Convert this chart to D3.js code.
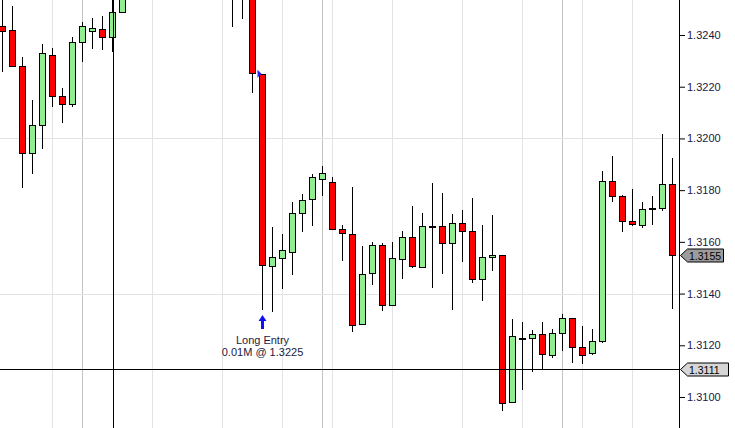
<!DOCTYPE html>
<meta charset="utf-8">
<title>EURUSD candles</title>
<style>
body { margin: 0; background: #fff; }
svg { display: block; font-family: Arial, "Liberation Sans", sans-serif; }
</style>
<svg id="chart"></svg>
<script src="https://cdn.jsdelivr.net/npm/d3@7"></script>
<script>
// OHLC, one bar every slot
var opens = [1.32434, 1.32418, 1.32279, 1.31942, 1.32051, 1.32321, 1.32163, 1.32132, 1.32372, 1.32413,
  1.32422, 1.32391, 1.32488, 1.3257, 1.3263, 1.3268, 1.3264, 1.3262, 1.3273, 1.3277,
  1.3270, 1.3264, 1.3261, 1.3259, 1.3256, 1.3260, 1.3225, 1.31507, 1.31538, 1.31559,
  1.31710, 1.31764, 1.31842, 1.31830, 1.31649, 1.31630, 1.31280, 1.31478, 1.31587, 1.31354,
  1.31532, 1.31617, 1.31503, 1.31660, 1.31660, 1.31594, 1.31672, 1.31641, 1.31455, 1.31540,
  1.31551, 1.30979, 1.31230, 1.31226, 1.31242, 1.31164, 1.31249, 1.31307, 1.31195, 1.31168,
  1.31215, 1.31834, 1.31776, 1.31680, 1.31667, 1.31732, 1.31729, 1.31823];
var highs = [1.32555, 1.32512, 1.32315, 1.32148, 1.32365, 1.32350, 1.32195, 1.32392, 1.32450, 1.32466,
  1.32474, 1.32547, 1.3260, 1.3266, 1.3272, 1.3275, 1.3270, 1.3276, 1.3281, 1.3280,
  1.3274, 1.3269, 1.3266, 1.3263, 1.3262, 1.3264, 1.3225, 1.31657, 1.31630, 1.31754,
  1.31784, 1.31862, 1.31893, 1.31852, 1.31666, 1.31813, 1.31585, 1.31600, 1.31595, 1.31600,
  1.31643, 1.31739, 1.31712, 1.31828, 1.31789, 1.31707, 1.31723, 1.31769, 1.31665, 1.31702,
  1.31551, 1.31300, 1.31289, 1.31258, 1.31289, 1.31262, 1.31320, 1.31307, 1.31274, 1.31262,
  1.31874, 1.31932, 1.31781, 1.31804, 1.31753, 1.31776, 1.32017, 1.31923];
var lows = [1.32258, 1.32279, 1.31809, 1.31863, 1.31960, 1.32123, 1.32061, 1.32123, 1.32297, 1.32347,
  1.32342, 1.32335, 1.32488, 1.3255, 1.3259, 1.3261, 1.3258, 1.3260, 1.3268, 1.3266,
  1.3260, 1.3257, 1.3256, 1.32432, 1.32463, 1.32177, 1.31336, 1.31329, 1.31418, 1.31472,
  1.31639, 1.31662, 1.31778, 1.31648, 1.31527, 1.31252, 1.31280, 1.31432, 1.31333, 1.31351,
  1.31457, 1.31497, 1.31503, 1.31422, 1.31476, 1.31336, 1.31523, 1.31441, 1.31373, 1.31488,
  1.30944, 1.30979, 1.31029, 1.31097, 1.31110, 1.31149, 1.31178, 1.31133, 1.31128, 1.31164,
  1.31209, 1.31756, 1.31639, 1.31663, 1.31652, 1.31667, 1.31720, 1.31342];
var closes = [1.32413, 1.32279, 1.31942, 1.32051, 1.32329, 1.32163, 1.32132, 1.32372, 1.32434, 1.32426,
  1.32391, 1.32488, 1.32574, 1.3263, 1.3268, 1.3264, 1.3262, 1.3273, 1.3277, 1.3270,
  1.3264, 1.3261, 1.3259, 1.3256, 1.3260, 1.32252, 1.31513, 1.31540, 1.31568, 1.31711,
  1.31761, 1.31849, 1.31865, 1.31648, 1.31633, 1.31280, 1.31474, 1.31587, 1.31354, 1.31536,
  1.31617, 1.31503, 1.31660, 1.31660, 1.31594, 1.31672, 1.31640, 1.31455, 1.31541, 1.31549,
  1.30979, 1.31234, 1.31230, 1.31242, 1.31164, 1.31249, 1.31307, 1.31195, 1.31164, 1.31215,
  1.31834, 1.31776, 1.31679, 1.31667, 1.31729, 1.31732, 1.31823, 1.3155];

var priceTicks = [1.3100, 1.3120, 1.3140, 1.3160, 1.3180, 1.3200, 1.3220, 1.3240];
var hGrid = [1.3140, 1.3200];
var vGridLight = [5, 15, 22, 28, 33, 39, 46, 52, 58, 63];
var vGridDark = [8, 32, 56];

var entryBar = 26, entryPrice = 1.3225;
var entryLines = ["Long Entry", "0.01M @ 1.3225"];
var lastPrice = 1.3155;
var crossBar = 11, crossPrice = 1.3111;

var width = 735, height = 428, axisX = 679.5;

var bars = opens.map(function(o, i) {
  return {i: i, o: o, h: highs[i], l: lows[i], c: closes[i]};
});

var svg = d3.select('#chart').attr('width', width).attr('height', height);

var x = d3.scaleLinear().domain([0, bars.length - 1]).range([2.5, 672.5]);
var y = d3.scaleLinear().domain([1.3100, 1.3240]).range([397, 35]);

var plot = svg.append('g');

// grid
plot.selectAll('.vgl').data(vGridLight).enter().append('line')
  .attr('x1', d => x(d)).attr('x2', d => x(d))
  .attr('y1', 0).attr('y2', height)
  .attr('stroke', '#e3e3e3');
plot.selectAll('.vgd').data(vGridDark).enter().append('line')
  .attr('x1', d => x(d)).attr('x2', d => x(d))
  .attr('y1', 0).attr('y2', height)
  .attr('stroke', '#c4c4c4');
plot.selectAll('.hg').data(hGrid).enter().append('line')
  .attr('x1', 0).attr('x2', axisX)
  .attr('y1', d => Math.round(y(d)) + 0.5).attr('y2', d => Math.round(y(d)) + 0.5)
  .attr('stroke', '#e3e3e3');

// candles
var candle = plot.selectAll('.candle').data(bars).enter().append('g');
candle.append('line')
  .attr('x1', d => x(d.i)).attr('x2', d => x(d.i))
  .attr('y1', d => Math.round(y(d.h))).attr('y2', d => Math.round(y(d.l)))
  .attr('stroke', '#000');
candle.append('rect')
  .attr('x', d => x(d.i) - 3)
  .attr('width', 6)
  .attr('y', d => Math.round(y(Math.max(d.o, d.c))) + 0.5)
  .attr('height', d => Math.max(1, Math.round(Math.abs(y(d.o) - y(d.c)))))
  .attr('fill', d => d.c < d.o ? '#ff0000' : '#90ee90')
  .attr('stroke', '#000');

// crosshair
var cy = Math.round(y(crossPrice)) + 0.5;
plot.append('line')
  .attr('x1', 0).attr('x2', axisX).attr('y1', cy).attr('y2', cy)
  .attr('stroke', '#000');
plot.append('line')
  .attr('x1', x(crossBar) + 1).attr('x2', x(crossBar) + 1).attr('y1', 0).attr('y2', height)
  .attr('stroke', '#000');

// entry marker
var ex = x(entryBar), ey = y(entryPrice);
plot.append('path')
  .attr('d', 'M' + (ex - 5) + ',' + (ey - 4) + 'L' + (ex - 1) + ',' + ey + 'L' + (ex - 5) + ',' + (ey + 4) + 'Z')
  .attr('fill', '#2323ff');
var ay = y(lows[entryBar]) + 5;
plot.append('path')
  .attr('d', 'M' + ex + ',' + ay + 'L' + (ex + 4) + ',' + (ay + 6) + 'L' + (ex + 1.5) + ',' + (ay + 6) +
    'L' + (ex + 1.5) + ',' + (ay + 14) + 'L' + (ex - 1.5) + ',' + (ay + 14) + 'L' + (ex - 1.5) + ',' + (ay + 6) +
    'L' + (ex - 4) + ',' + (ay + 6) + 'Z')
  .attr('fill', '#1010f0');
plot.selectAll('.entry').data(entryLines).enter().append('text')
  .attr('x', ex).attr('y', (d, i) => ay + 29 + i * 12)
  .attr('text-anchor', 'middle')
  .attr('font-size', 11)
  .attr('fill', '#1a1a40')
  .text(d => d);

// price axis
var axis = svg.append('g')
  .attr('transform', 'translate(' + (axisX - 0.5) + ',0)')
  .call(d3.axisRight(y).tickValues(priceTicks).tickSize(6).tickPadding(2).tickFormat(d3.format('.4f')));
axis.select('.domain').remove();
axis.selectAll('text').attr('font-size', 11).attr('font-family', 'Arial, "Liberation Sans", sans-serif').attr('fill', '#1a1a40');
svg.append('line')
  .attr('x1', axisX).attr('x2', axisX).attr('y1', 0).attr('y2', height)
  .attr('stroke', '#000');

// price flags
function flag(price, fill, w) {
  var py = Math.round(y(price)) + 0.5;
  var g = svg.append('g');
  g.append('path')
    .attr('d', 'M' + (axisX + 1) + ',' + py + 'L' + (axisX + 8) + ',' + (py - 6.5) + 'L' + (axisX + w) + ',' + (py - 6.5) +
      'L' + (axisX + w) + ',' + (py + 6.5) + 'L' + (axisX + 8) + ',' + (py + 6.5) + 'Z')
    .attr('fill', fill).attr('stroke', '#000');
  g.append('text')
    .attr('x', axisX + 9.5).attr('y', py + 4)
    .attr('font-size', 10.5)
    .attr('fill', '#000')
    .text(d3.format('.4f')(price));
}
flag(lastPrice, '#9c9c9c', 44);
flag(crossPrice, '#d6d6d6', 49);
</script>
